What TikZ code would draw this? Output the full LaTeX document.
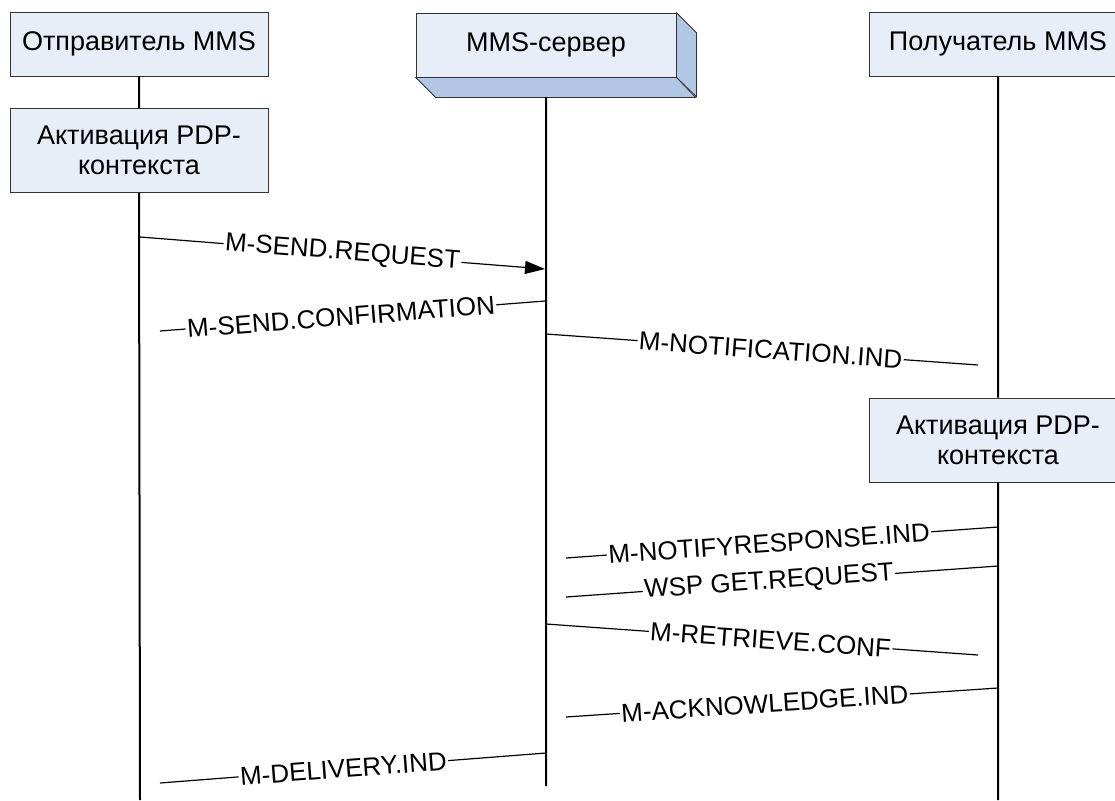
\documentclass[tikz,border=0pt]{standalone}
\usepackage{fontspec}
\setmainfont{Liberation Sans}
\usetikzlibrary{positioning, arrows.meta}
\definecolor{boxfill}{RGB}{232,238,248}
\definecolor{boxside}{RGB}{178,198,230}
\tikzset{
party/.style={draw=black!80, fill=boxfill, line width=0.8pt, minimum width=258pt, minimum height=64pt, font=\fontsize{27}{30}\selectfont}, % participant boxes
pdp/.style={party, minimum height=84pt, align=center}, % context activation boxes
life/.style={line width=2pt}, % lifelines
msg/.style={line width=1.2pt}, % message lines
lbl/.style={sloped, fill=white, inner xsep=1.5pt, inner ysep=0pt, font=\fontsize{26}{28}\selectfont}, % message labels
}

\begin{document}
\begin{tikzpicture}[x=1pt, y=-1pt]
  \useasboundingbox (0,0) rectangle (1115,800);
  \clip (0,0) rectangle (1115,800);

  \node[party] (snd) at (139,44) {Отправитель MMS};
  \node[pdp, below=32pt of snd] (sndpdp) {Активация PDP-\\контекста};
  \node[party, minimum width=260pt] (srv) at (546,45) {MMS-сервер};
  \node[party] (rcv) at (998,44) {Получатель MMS};
  \node[pdp] (rcvpdp) at (998,440) {Активация PDP-\\контекста};

  % 3d sides of the server box
  \filldraw[boxside, draw=black!80, line width=0.8pt] (srv.north east) -- ++(20,20) -- ++(0,64) -- (srv.south east) -- cycle;
  \filldraw[boxside, draw=black!80, line width=0.8pt] (srv.south west) -- ++(20,20) -- ++(260,0) -- (srv.south east) -- cycle;

  \coordinate (srvtop) at (546,97);
  \coordinate (srvend) at (546,786);
  \coordinate (sndend) at (140,800);
  \coordinate (rcvend) at (998,800);

  \draw[life] (snd.south) -- (sndpdp.north)
              (sndpdp.south) -- (sndend)
              (srvtop) -- (srvend)
              (rcv.south) -- (rcvpdp.north)
              (rcvpdp.south) -- (rcvend);

  \coordinate (m1a) at (140,237);  \coordinate (m1b) at (545,269);
  \coordinate (m2a) at (545,301);  \coordinate (m2b) at (160,331);
  \coordinate (m3a) at (546,334);  \coordinate (m3b) at (978,365);
  \coordinate (m4a) at (998,527);  \coordinate (m4b) at (566,558);
  \coordinate (m5a) at (998,566);  \coordinate (m5b) at (566,597);
  \coordinate (m6a) at (546,624);  \coordinate (m6b) at (978,655);
  \coordinate (m7a) at (998,688);  \coordinate (m7b) at (566,717);
  \coordinate (m8a) at (546,753);  \coordinate (m8b) at (160,783);

  \draw[msg] (m1a) edge[-{Triangle[length=20pt,width=13pt]}] node[lbl]{M-SEND.REQUEST} (m1b)
        (m2a) edge node[lbl, pos=.53]{M-SEND.CONFIRMATION} (m2b)
        (m3a) edge node[lbl, pos=.52]{M-NOTIFICATION.IND} (m3b)
        (m4a) edge node[lbl, pos=.53]{M-NOTIFYRESPONSE.IND} (m4b)
        (m5a) edge node[lbl, pos=.53]{WSP GET.REQUEST} (m5b)
        (m6a) edge node[lbl, pos=.52]{M-RETRIEVE.CONF} (m6b)
        (m7a) edge node[lbl, pos=.54]{M-ACKNOWLEDGE.IND} (m7b)
        (m8a) edge node[lbl, pos=.525]{M-DELIVERY.IND} (m8b);
\end{tikzpicture}
\end{document}
